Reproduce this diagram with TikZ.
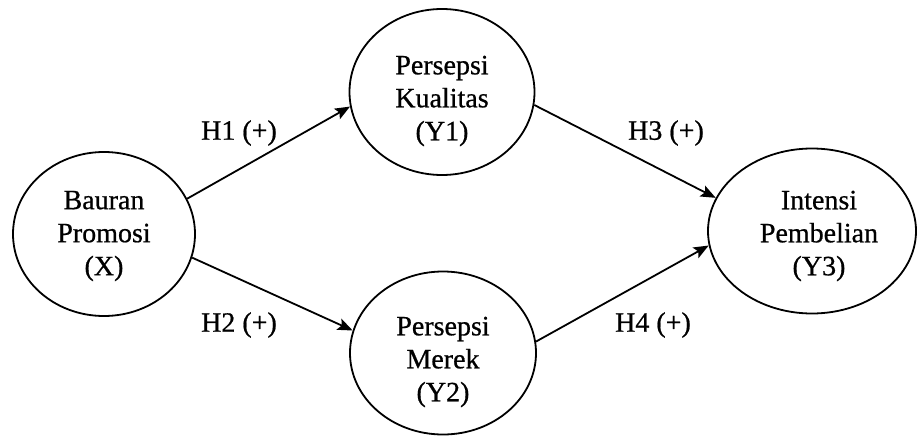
\documentclass[tikz,border=0pt]{standalone}
\usepackage{fontspec}
\setmainfont{Liberation Serif}[FakeBold=0.7]
\usetikzlibrary{shapes.geometric,arrows.meta}
\begin{document}
\begin{tikzpicture}[x=1pt,y=-1pt,
  construct/.style={draw=black,line width=1.8pt,ellipse,inner sep=0pt},
  caption/.style={align=center,inner sep=0pt,font=\fontsize{28}{33}\selectfont},
  path/.style={draw=black,line width=1.8pt,
    -{Stealth[length=15pt,width=12pt,inset=3pt]}},
  hyp/.style={font=\fontsize{28}{33}\selectfont,inner sep=0pt}]
  \useasboundingbox[fill=white] (0,0) rectangle (919,436);

  % latent constructs
  \node[construct,minimum width=182pt,minimum height=164pt] (X)  at (104,234) {};
  \node[construct,minimum width=185pt,minimum height=166pt] (Y1) at (442,92)  {};
  \node[construct,minimum width=186pt,minimum height=163pt] (Y2) at (443,353) {};
  \node[construct,minimum width=208pt,minimum height=165pt] (Y3) at (812,231) {};

  % construct names
  \node[caption] (Xt)  at ([yshift=-2pt]X.center)             {Bauran\\Promosi\\(X)};
  \node[caption] (Y1t) at ([yshift=-9pt]Y1.center)            {Persepsi\\Kualitas\\(Y1)};
  \node[caption] (Y2t) at ([yshift=-9pt]Y2.center)            {Persepsi\\Merek\\(Y2)};
  \node[caption] (Y3t) at ([xshift=7pt,yshift=-5pt]Y3.center) {Intensi\\Pembelian\\(Y3)};

  % hypothesised paths
  \draw[path] (X.23)   -- (Y1.-171);
  \draw[path] (X.-15)  -- (Y2.166);
  \draw[path] (Y1.-8)  -- (Y3.161);
  \draw[path] (Y2.7)   -- (Y3.-172);

  % path labels
  \node[hyp] (h1) at (239,133) {H1 (+)};
  \node[hyp] (h2) at (239,325) {H2 (+)};
  \node[hyp] (h3) at (666,133) {H3 (+)};
  \node[hyp] (h4) at (653,325) {H4 (+)};
\end{tikzpicture}
\end{document}
